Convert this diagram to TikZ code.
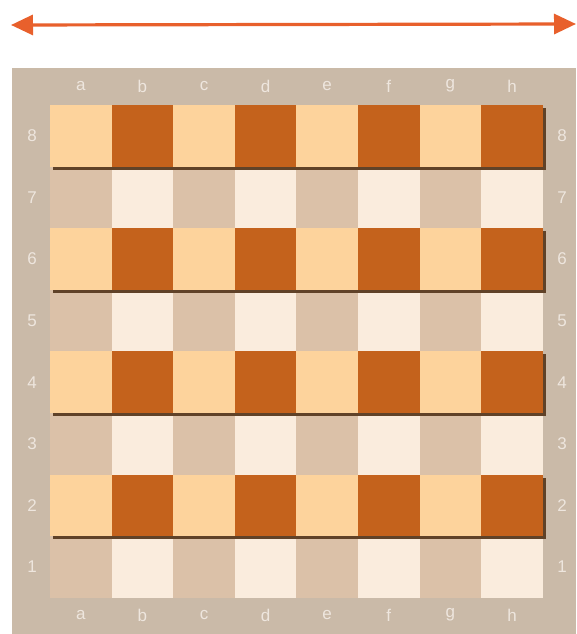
\documentclass[tikz,border=0pt]{standalone}
\usepackage{fontspec}
\setmainfont{Liberation Sans}
\usetikzlibrary{arrows.meta}

\definecolor{frametan}{RGB}{202,186,168}
\definecolor{tone00}{RGB}{250,236,221}
\definecolor{tone01}{RGB}{219,193,168}
\definecolor{tone10}{RGB}{253,211,156}
\definecolor{tone11}{RGB}{196,98,28}
\definecolor{shadowbrown}{RGB}{96,66,40}
\definecolor{labelwhite}{RGB}{238,230,222}
\definecolor{arrowred}{RGB}{232,96,44}

\begin{document}
\begin{tikzpicture}[x=1pt, y=-1pt, line join=bevel]

                \pgfmathsetmacro{\s}{61.6}
                \pgfmathsetmacro{\xo}{50}
                \pgfmathsetmacro{\yo}{105}

                \tikzset{
                  board_frame/.style = {fill=frametan},
                  square/.style      = {minimum size=\s pt, inner sep=0pt, outer sep=0pt},
                  row_shadow/.style  = {fill=shadowbrown},
                  coord_label/.style = {text=labelwhite, font=\fontsize{17}{17}\selectfont},
                  range_arrow/.style = {draw=arrowred, fill=arrowred, line width=3.2pt,
                                        {Triangle[length=22pt,width=20pt]}-{Triangle[length=22pt,width=20pt]}}
                }

                \useasboundingbox (0,0) rectangle (576,634);

                % frame
                \fill[board_frame] (12,68) rectangle (576,634);

                % squares, rows 2,4,6,8 stand raised with a shadow
                \foreach \r in {1,...,8}{
                    \pgfmathsetmacro{\ytop}{\yo+(8-\r)*\s}
                    \pgfmathtruncatemacro{\israised}{1-mod(\r,2)}
                    \ifnum\israised=1
                        \fill[row_shadow] ({\xo+3},{\ytop+3}) rectangle ({\xo+8*\s+3},{\ytop+\s+3});
                    \fi
                    \foreach \c [count=\i from 0] in {a,...,h}{
                        \pgfmathtruncatemacro{\isdark}{mod(\i+\r,2)}
                        \node[square, fill=tone\israised\isdark] (\c\r)
                            at ({\xo+\i*\s+0.5*\s}, {\ytop+0.5*\s}) {};
                    }
                }

                % file and rank labels
                \foreach \c [count=\i from 0] in {a,...,h}{
                    \node[coord_label] (top-\c) at ({\xo+\i*\s+0.5*\s}, 86) {\c};
                    \node[coord_label] (bot-\c) at ({\xo+\i*\s+0.5*\s}, 615) {\c};
                }
                \foreach \r in {1,...,8}{
                    \node[coord_label] (left-\r)  at (32,  {\yo+(8-\r)*\s+0.5*\s}) {\r};
                    \node[coord_label] (right-\r) at (562, {\yo+(8-\r)*\s+0.5*\s}) {\r};
                }

                % width arrow
                \coordinate (arr-l) at (11,25);
                \coordinate (arr-r) at (576,24);
                \draw[range_arrow] (arr-l) -- (arr-r);
\end{tikzpicture}
\end{document}
